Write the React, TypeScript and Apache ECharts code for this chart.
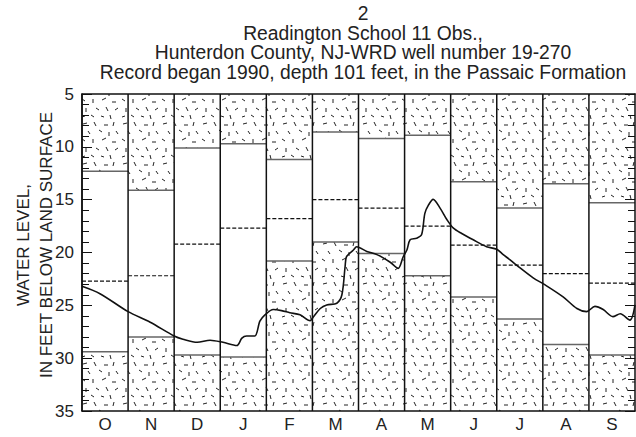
import React, { useEffect, useRef } from 'react';
import * as echarts from 'echarts';

const titleLines = [
  '2',
  'Readington School 11 Obs.,',
  'Hunterdon County, NJ-WRD well number 19-270',
  'Record began 1990, depth 101 feet, in the Passaic Formation',
];
const yAxisTitle = ['WATER LEVEL,', 'IN FEET BELOW LAND SURFACE'];
const months = ['O', 'N', 'D', 'J', 'F', 'M', 'A', 'M', 'J', 'J', 'A', 'S'];
// monthly statistics (feet below land surface)
const monthMin = [12.3, 14.1, 10.1, 9.7, 11.2, 8.6, 9.2, 8.9, 13.3, 15.8, 13.5, 15.3];
const monthMedian = [22.7, 22.2, 19.2, 17.7, 16.8, 15.0, 15.8, 17.5, 19.3, 21.2, 22.0, 22.9];
const monthMax = [29.4, 28.0, 29.7, 29.9, 20.8, 19.0, 20.1, 22.2, 24.2, 26.3, 28.7, 29.7];
// daily water level, position in months since Oct 1
const levelMonth = [
  0.0, 0.39, 1.0, 1.48, 2.0, 2.19, 2.5, 2.78, 3.06, 3.36, 3.47, 3.57, 3.75, 3.86, 3.97,
  4.15, 4.33, 4.51, 4.73, 4.95, 5.02, 5.17, 5.31, 5.53, 5.64, 5.71, 5.74, 5.89, 5.96,
  6.18, 6.4, 6.68, 6.86, 6.97, 7.05, 7.12, 7.26, 7.37, 7.44, 7.52, 7.62, 7.77, 7.92,
  8.06, 8.24, 8.49, 8.78, 9.0, 9.14, 9.29, 9.43, 9.79, 10.05, 10.44, 10.74, 10.95,
  11.13, 11.31, 11.52, 11.68, 11.89, 12.0,
];
const levelDepth = [
  23.2, 23.9, 25.6, 26.6, 27.9, 28.2, 28.5, 28.3, 28.5, 28.8, 28.1, 27.9, 27.9, 26.5, 25.9,
  25.4, 25.5, 25.7, 25.9, 26.45, 26.1, 25.3, 24.96, 24.8, 24.0, 21.3, 20.4, 19.76, 19.45,
  19.9, 20.2, 20.9, 21.5, 20.4, 19.76, 18.8, 18.65, 18.3, 16.3, 15.5, 14.97, 15.8, 16.9,
  17.7, 18.2, 18.8, 19.45, 19.7, 20.2, 20.7, 21.2, 22.4, 23.07, 24.2, 25.3, 25.6,
  25.1, 25.4, 26.07, 25.8, 26.4, 24.96,
];

const dashSegs = [
  [3, 4, 7, 3], [14, 2, 16, 6], [24, 5, 28, 5], [34, 2, 33, 6], [8, 11, 10, 14],
  [19, 10, 22, 12], [29, 12, 29, 16], [36, 11, 38, 14], [2, 19, 5, 21], [13, 19, 13, 23],
  [22, 20, 26, 18], [32, 22, 36, 22], [6, 28, 6, 32], [16, 28, 19, 30], [26, 27, 28, 31],
  [35, 30, 38, 28], [2, 37, 5, 36], [11, 35, 14, 37], [21, 36, 24, 37], [30, 35, 31, 39],
];

function makePattern() {
  const lines = dashSegs
    .map(([a, b, c, d]) => `<line x1='${a}' y1='${b}' x2='${c}' y2='${d}'/>`)
    .join('');
  const svg = `<svg xmlns='http://www.w3.org/2000/svg' width='40' height='40'><rect width='40' height='40' fill='#fff'/><g stroke='#222' stroke-width='1'>${lines}</g></svg>`;
  return {
    image: 'data:image/svg+xml;charset=utf-8,' + encodeURIComponent(svg),
    repeat: 'repeat',
    imageWidth: 40,
    imageHeight: 40,
  };
}

export default function App() {
  const ref = useRef<HTMLDivElement>(null);
  useEffect(() => {
    if (!ref.current) return;
    const chart = echarts.init(ref.current, null, { renderer: 'svg' });
    const pattern = makePattern();
    const font = '"Liberation Sans", Arial, sans-serif';
    const boxData = months.map((_, i) => [i, monthMin[i], monthMedian[i], monthMax[i]]);
    const lineData = levelMonth.map((m, i) => [m, levelDepth[i]]);
    const yAxisBase = {
      type: 'value',
      inverse: true,
      min: 5,
      max: 35,
      interval: 5,
      z: 10,
      splitLine: { show: false },
      axisLine: { show: true, lineStyle: { color: '#111', width: 1.5 } },
      axisTick: { show: true, inside: true, length: 10, lineStyle: { color: '#111', width: 1 } },
      minorTick: { show: true, splitNumber: 5, length: 7, lineStyle: { color: '#111', width: 1 } },
    };
    chart.setOption({
      animation: false,
      backgroundColor: '#fff',
      title: {
        text: titleLines.join('\n'),
        left: 358,
        top: -1,
        textAlign: 'center',
        textStyle: { fontFamily: font, fontWeight: 'normal', fontSize: 19.3, lineHeight: 19.5, color: '#222' },
      },
      graphic: [
        {
          type: 'text',
          x: 35,
          y: 245,
          rotation: Math.PI / 2,
          style: {
            text: yAxisTitle.join('\n'),
            fontFamily: font,
            fontSize: 17,
            lineHeight: 23,
            fill: '#222',
            align: 'center',
            verticalAlign: 'middle',
          },
        },
      ],
      grid: { left: 82, right: 1, top: 94, bottom: 26, containLabel: false },
      xAxis: [
        { type: 'value', min: 0, max: 12, show: false },
        {
          type: 'category',
          data: months,
          position: 'bottom',
          z: 10,
          axisLine: { show: true, lineStyle: { color: '#111', width: 1.5 } },
          axisTick: { show: false },
          axisLabel: { fontFamily: font, fontSize: 17, color: '#222', margin: 5 },
        },
        {
          type: 'category',
          data: months,
          position: 'top',
          z: 10,
          axisLine: { show: true, lineStyle: { color: '#111', width: 1.5 } },
          axisTick: { show: false },
          axisLabel: { show: false },
        },
      ],
      yAxis: [
        {
          ...yAxisBase,
          position: 'left',
          axisLabel: { fontFamily: font, fontSize: 17, color: '#222', margin: 8 },
        },
        {
          ...yAxisBase,
          position: 'right',
          axisLabel: { show: false },
        },
      ],
      series: [
        {
          type: 'custom',
          xAxisIndex: 0,
          yAxisIndex: 0,
          data: boxData,
          z: 1,
          renderItem: (params: any, api: any) => {
            const i = api.value(0);
            const lo = api.value(1);
            const med = api.value(2);
            const hi = api.value(3);
            const [x0, yTop] = api.coord([i, 5]);
            const [x1, yBot] = api.coord([i + 1, 35]);
            const yLo = api.coord([i, lo])[1];
            const yMed = api.coord([i, med])[1];
            const yHi = api.coord([i, hi])[1];
            const w = x1 - x0;
            return {
              type: 'group',
              children: [
                { type: 'rect', shape: { x: x0, y: yTop, width: w, height: yLo - yTop }, style: { fill: pattern } },
                { type: 'rect', shape: { x: x0, y: yLo, width: w, height: yHi - yLo }, style: { fill: '#fff' } },
                { type: 'rect', shape: { x: x0, y: yHi, width: w, height: yBot - yHi }, style: { fill: pattern } },
                { type: 'line', shape: { x1: x0, y1: yLo, x2: x1, y2: yLo }, style: { stroke: '#666', lineWidth: 1.5 } },
                { type: 'line', shape: { x1: x0, y1: yHi, x2: x1, y2: yHi }, style: { stroke: '#666', lineWidth: 1.5 } },
                { type: 'line', shape: { x1: x0, y1: yMed, x2: x1, y2: yMed }, style: { stroke: '#111', lineWidth: 1.2, lineDash: [4, 2] } },
                { type: 'line', shape: { x1: x0, y1: yTop, x2: x0, y2: yBot }, style: { stroke: '#111', lineWidth: 1.5 } },
              ],
            };
          },
        },
        {
          type: 'line',
          xAxisIndex: 0,
          yAxisIndex: 0,
          data: lineData,
          showSymbol: false,
          smooth: 0.3,
          z: 5,
          lineStyle: { color: '#111', width: 1.6 },
        },
      ],
    });
    return () => chart.dispose();
  }, []);
  return <div ref={ref} style={{ width: 636, height: 437, position: 'fixed', left: 0, top: 0 }} />;
}
